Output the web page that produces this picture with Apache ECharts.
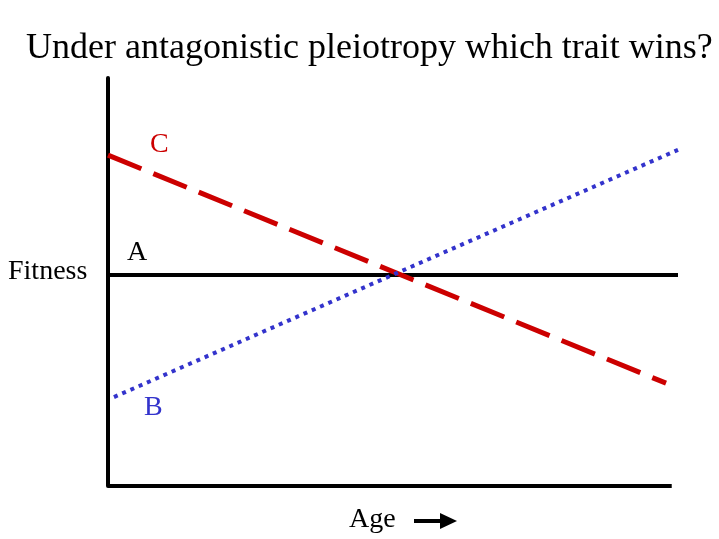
<!DOCTYPE html>
<html>
<head>
<meta charset="utf-8">
<script src="https://cdn.jsdelivr.net/npm/echarts@6/dist/echarts.min.js"></script>
<style>html,body{margin:0;padding:0;background:#fff}#c{width:719px;height:539px}</style>
</head>
<body>
<div id="c"></div>
<script>
var titleText = "Under antagonistic pleiotropy which trait wins?";
var xName = "Age";
var yName = "Fitness";
// traits: [x, y] on a 0-100 age / fitness scale
var traitA = [[0, 51.7], [100, 51.7]];
var traitB = [[1.05, 21.8], [100, 82.4]];
var traitC = [[0, 81.1], [97.9, 25.2]];
var ageAxis = [[0, 0], [98.9, 0]];
var traitLabels = ["A", "B", "C"];

var serif = "'Liberation Serif','Times New Roman',serif";
var chart = echarts.init(document.getElementById('c'), null, {renderer: 'canvas'});
chart.setOption({
  animation: false,
  backgroundColor: '#fff',
  title: {
    text: titleText, left: 21, top: 26,
    textStyle: {fontFamily: serif, fontSize: 36, fontWeight: 'normal', color: '#000'}
  },
  grid: {left: 108, top: 78, width: 570, height: 408, containLabel: false},
  xAxis: {
    type: 'value', min: 0, max: 100,
    axisLine: {show: false},
    axisTick: {show: false}, axisLabel: {show: false}, splitLine: {show: false}
  },
  yAxis: {
    type: 'value', min: 0, max: 100,
    axisLine: {show: true, onZero: false, lineStyle: {color: '#000', width: 4}},
    axisTick: {show: false}, axisLabel: {show: false}, splitLine: {show: false}
  },
  series: [
    {type: 'line', name: 'age', data: ageAxis, clip: false, symbol: 'none',
     lineStyle: {color: '#000', width: 4}},
    {type: 'line', name: traitLabels[0], data: traitA, clip: false, symbol: 'none',
     lineStyle: {color: '#000', width: 4}},
    {type: 'line', name: traitLabels[2], data: traitC, clip: false, symbol: 'none',
     lineStyle: {color: '#cc0000', width: 5, type: [36, 13]}},
    {type: 'line', name: traitLabels[1], data: traitB, clip: false, symbol: 'none',
     lineStyle: {color: '#3333cc', width: 4, type: [4, 5]}}
  ],
  graphic: [
    {type: 'text', left: 8, top: 258, style: {text: yName, font: '28px ' + serif, fill: '#000'}},
    {type: 'text', left: 349, top: 506, style: {text: xName, font: '28px ' + serif, fill: '#000'}},
    {type: 'text', left: 127, top: 239, style: {text: traitLabels[0], font: '28px ' + serif, fill: '#000'}},
    {type: 'text', left: 144, top: 394, style: {text: traitLabels[1], font: '28px ' + serif, fill: '#3333cc'}},
    {type: 'text', left: 150, top: 131, style: {text: traitLabels[2], font: '28px ' + serif, fill: '#cc0000'}},
    {type: 'line', shape: {x1: 414, y1: 521, x2: 442, y2: 521}, style: {stroke: '#000', lineWidth: 4}},
    {type: 'polygon', shape: {points: [[440, 513], [457, 521], [440, 529]]}, style: {fill: '#000'}}
  ]
});
</script>
</body>
</html>
